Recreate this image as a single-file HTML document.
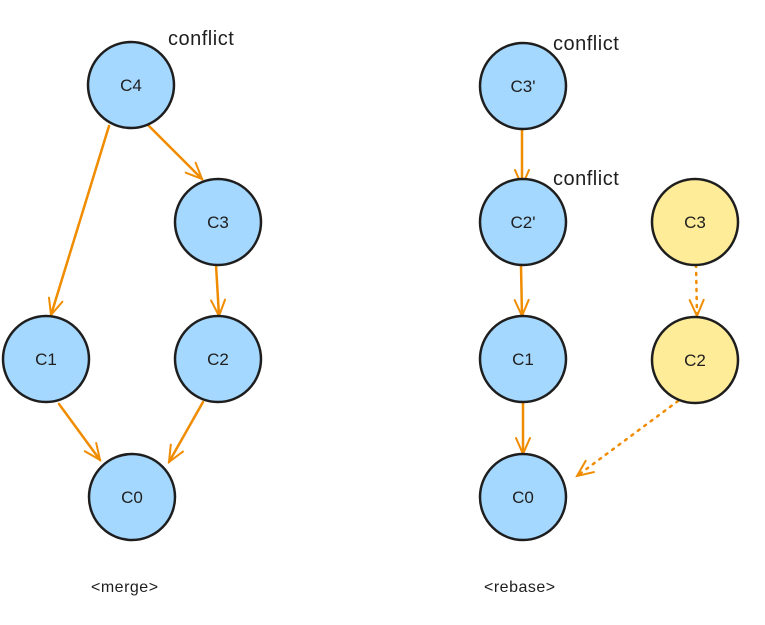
<!DOCTYPE html>
<html><head><meta charset="utf-8"><style>
html,body{margin:0;padding:0;background:#fff;}
svg{display:block}
text{font-family:"Liberation Sans",sans-serif;fill:#1e1e1e;}
</style></head><body>
<svg width="765" height="625" viewBox="0 0 765 625" xmlns="http://www.w3.org/2000/svg">
<defs>
<marker id="a" viewBox="0 0 20 20" refX="18" refY="10" markerWidth="20" markerHeight="20" markerUnits="userSpaceOnUse" orient="auto">
<path d="M2 3 L18 10 L2 17" fill="none" stroke="#f08c00" stroke-width="2" stroke-linecap="round"/>
</marker>
</defs>
<g stroke="#f08c00" stroke-width="2.5" fill="none" stroke-linecap="round">
<line x1="109" y1="126" x2="51" y2="315" marker-end="url(#a)"/>
<line x1="148" y1="125" x2="202" y2="179" marker-end="url(#a)"/>
<line x1="216" y1="265" x2="219" y2="316" marker-end="url(#a)"/>
<line x1="59" y1="404" x2="100" y2="460" marker-end="url(#a)"/>
<line x1="203" y1="402" x2="169" y2="462" marker-end="url(#a)"/>
<line x1="522" y1="129" x2="522" y2="186" marker-end="url(#a)"/>
<line x1="521" y1="266" x2="522" y2="316" marker-end="url(#a)"/>
<line x1="523" y1="402" x2="523" y2="454" marker-end="url(#a)"/>
<g stroke-dasharray="2 6">
<line x1="696" y1="265" x2="697" y2="316" marker-end="url(#a)"/>
<line x1="678" y1="401" x2="577" y2="476" marker-end="url(#a)"/>
</g>
</g>
<g stroke="#1e1e1e" stroke-width="2.5">
<circle cx="131" cy="85" r="43" fill="#a5d8ff"/>
<circle cx="218" cy="222" r="43" fill="#a5d8ff"/>
<circle cx="46" cy="359" r="43" fill="#a5d8ff"/>
<circle cx="218" cy="359" r="43" fill="#a5d8ff"/>
<circle cx="132" cy="497" r="43" fill="#a5d8ff"/>
<circle cx="523" cy="86" r="43" fill="#a5d8ff"/>
<circle cx="523" cy="222" r="43" fill="#a5d8ff"/>
<circle cx="523" cy="359" r="43" fill="#a5d8ff"/>
<circle cx="523" cy="497" r="43" fill="#a5d8ff"/>
<circle cx="695" cy="222" r="43" fill="#ffec99"/>
<circle cx="695" cy="360" r="43" fill="#ffec99"/>
</g>
<g font-size="17" text-anchor="middle">
<text x="131" y="91">C4</text>
<text x="218" y="228">C3</text>
<text x="46" y="365">C1</text>
<text x="218" y="365">C2</text>
<text x="132" y="503">C0</text>
<text x="523" y="92">C3'</text>
<text x="523" y="228">C2'</text>
<text x="523" y="365">C1</text>
<text x="523" y="503">C0</text>
<text x="695" y="228">C3</text>
<text x="695" y="366">C2</text>
</g>
<g font-size="20" letter-spacing="0.5">
<text x="168" y="45">conflict</text>
<text x="553" y="50">conflict</text>
<text x="553" y="185">conflict</text>
</g>
<g font-size="16" letter-spacing="0.5">
<text x="91" y="592">&lt;merge&gt;</text>
<text x="484" y="592">&lt;rebase&gt;</text>
</g>
</svg>
</body></html>
